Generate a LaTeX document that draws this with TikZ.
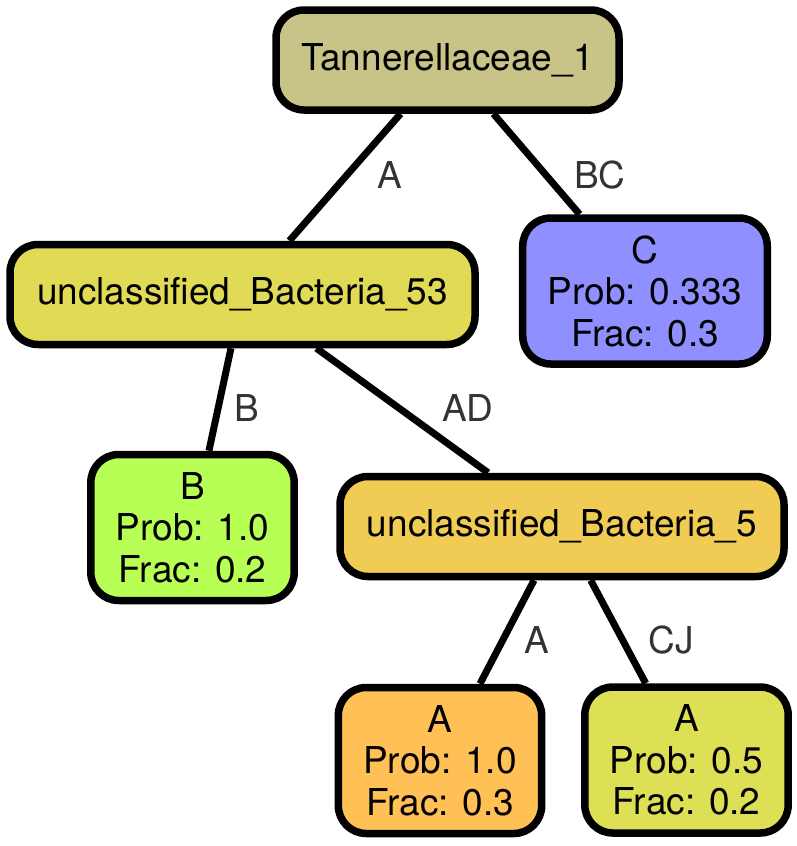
\documentclass[tikz,border=0pt]{standalone}
\usepackage{fontspec}
\setmainfont{TeX Gyre Heros}
\usetikzlibrary{positioning,shapes,calc}
\definecolor{tanfill}{HTML}{C8C488}
\definecolor{ubfiftythree}{HTML}{E0DA55}
\definecolor{cfill}{HTML}{8F8FFF}
\definecolor{bfill}{HTML}{B8FF55}
\definecolor{ubfive}{HTML}{F0CC55}
\definecolor{aonefill}{HTML}{FFC055}
\definecolor{atwofill}{HTML}{DDE055}
\definecolor{lblgray}{HTML}{333333}
\tikzstyle{taxon} = [draw=black, line width=7.5pt, rectangle,
        rounded corners=28pt, inner xsep=25pt, inner ysep=4pt,
        minimum height=100pt, align=center,
        font=\fontsize{37}{41.5}\selectfont]
\tikzstyle{leaf} = [taxon, minimum height=146pt]
\tikzstyle{branch} = [draw=black, line width=7pt]
\tikzstyle{elabel} = [text=lblgray, inner sep=0pt,
        font=\fontsize{37}{41.5}\selectfont]

\begin{document}
\begin{tikzpicture}[x=1pt,y=-1pt]
\useasboundingbox (0,0) rectangle (797,846);
% taxa
\node (tann) [taxon, fill=tanfill, minimum width=343pt] at (447.5,60) {Tannerellaceae\_1};
\node (ub53) [taxon, fill=ubfiftythree, minimum width=465pt] at (242.5,294.5) {unclassified\_Bacteria\_53};
\node (c) [leaf, fill=cfill, minimum width=238pt] at (645,291) {C\\Prob: 0.333\\Frac: 0.3};
\node (b) [leaf, fill=bfill, minimum width=195pt] at (192.5,527.5) {B\\Prob: 1.0\\Frac: 0.2};
\node (ub5) [taxon, fill=ubfive, minimum width=444pt] at (562,526.5) {unclassified\_Bacteria\_5};
\node (a1) [leaf, fill=aonefill, minimum width=200pt] at (440,760.5) {A\\Prob: 1.0\\Frac: 0.3};
\node (a2) [leaf, fill=atwofill, minimum width=197pt] at (686.5,760) {A\\Prob: 0.5\\Frac: 0.2};
% branches
\draw [branch] (tann) -- (ub53);
\draw [branch] (tann) -- (c);
\draw [branch] (ub53) -- (b);
\draw [branch] (ub53) -- (ub5);
\draw [branch] (ub5) -- (a1);
\draw [branch] (ub5) -- (a2);
% branch labels
\node (lA) [elabel] at (389.5,175) {A};
\node (lBC) [elabel] at (600,175) {BC};
\node (lB) [elabel] at (247,408) {B};
\node (lAD) [elabel] at (468,408) {AD};
\node (lA2) [elabel] at (536.5,640) {A};
\node (lCJ) [elabel] at (671.5,640) {CJ};
\end{tikzpicture}
\end{document}
